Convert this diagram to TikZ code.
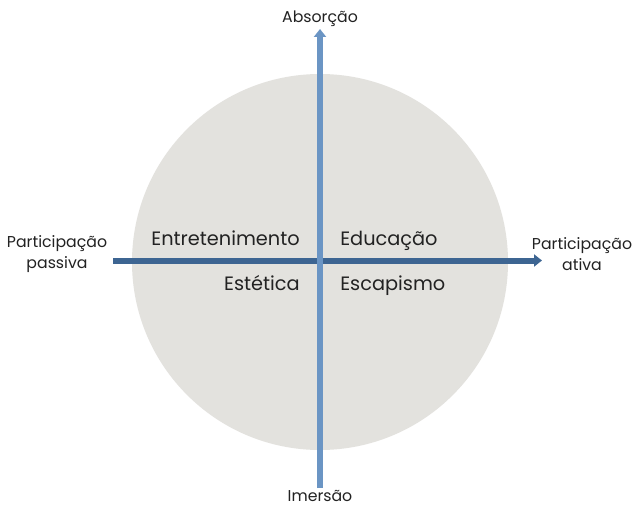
\documentclass[tikz,border=0pt]{standalone}
\usepackage{fontspec}
\setmainfont{Poppins}
\usetikzlibrary{arrows.meta}
\definecolor{disc}{HTML}{E3E2DE}
\definecolor{vblue}{HTML}{6B95C4}
\definecolor{hblue}{HTML}{3D6592}
\definecolor{txt}{HTML}{222222}
\begin{document}
\begin{tikzpicture}[x=0.75pt,y=-0.75pt,
  outer/.style={font=\fontsize{11.8}{15.5}\selectfont, text=txt, align=center, inner sep=0pt},
  quad/.style={font=\fontsize{14.5}{16}\selectfont, text=txt, inner sep=0pt, anchor=base},
  axis/.style={line width=4.5pt, -{Triangle[length=6pt,width=9pt]}}]
\useasboundingbox[fill=white] (0,0) rectangle (634,506);
\node[circle, fill=disc, minimum size=282pt, inner sep=0pt] (c) at (320,262) {};
\coordinate (hl) at (113,260.5);
\coordinate (hr) at (542,260.5);
\coordinate (vb) at (320,488);
\coordinate (vt) at (320,29);
\draw[axis, hblue] (hl) -- (hr);
\draw[axis, vblue] (vb) -- (vt);
\node[outer] (abs) at (320,19) {Absorção};
\node[outer, anchor=base] (ime) at (320,501.5) {Imersão};
\node[outer] (pp) at (57,254) {Participação\\passiva};
\node[outer] (pa) at (582,254) {Participação\\ativa};
\node[quad, anchor=base east] (ent) at (300,245) {Entretenimento};
\node[quad, anchor=base west] (edu) at (340,245) {Educação};
\node[quad, anchor=base east] (est) at (300,290.5) {Estética};
\node[quad, anchor=base west] (esc) at (340,290.5) {Escapismo};
\end{tikzpicture}
\end{document}
